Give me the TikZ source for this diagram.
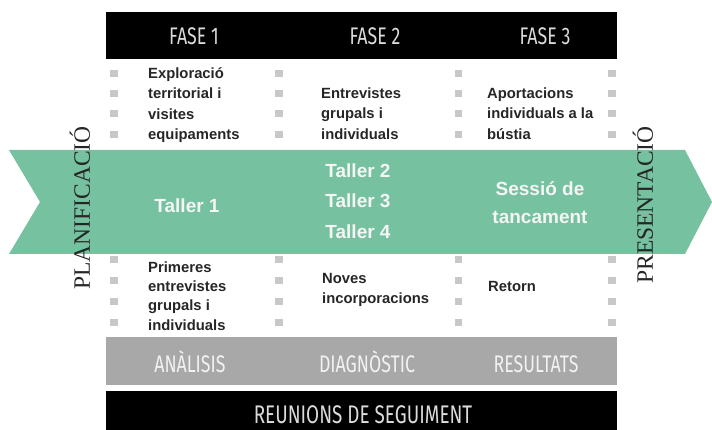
\documentclass[tikz,border=0pt]{standalone}
\usepackage{fontspec}
\setmainfont{Liberation Sans}
\newfontfamily\headfont{Fira Sans}[FakeStretch=0.74]
\newfontfamily\sidefont{Liberation Serif}
\definecolor{band}{RGB}{117,193,160}
\definecolor{dotgray}{RGB}{200,200,200}
\definecolor{stagegray}{RGB}{168,168,168}
\definecolor{ink}{RGB}{38,38,38}

\begin{document}
\begin{tikzpicture}[x=1pt,y=-1pt,every node/.style={inner sep=0pt},
  bar/.style={anchor=north west,minimum width=511pt},
  headtxt/.style={font=\headfont\fontsize{24}{24}\selectfont,text=white!86!black,anchor=base},
  coltxt/.style={font=\bfseries\fontsize{14.8}{20.3}\selectfont,text=ink,align=left,anchor=base west},
  bandtxt/.style={font=\bfseries\fontsize{19}{30.7}\selectfont,text=white!96!black,align=center},
  sidetxt/.style={font=\sidefont\fontsize{23.5}{23.5}\selectfont,rotate=90,text=ink}]
  \useasboundingbox (0,0) rectangle (712,430);
  \node[bar,fill=black,minimum height=47pt] (fases) at (106,12) {};
  \node[bar,fill=stagegray,minimum height=48pt] (etapes) at (106,337) {};
  \node[bar,fill=black,minimum height=40pt] (reunions) at (106,391) {};
  \fill[band] (9,150) -- (685,150) -- (712,202) -- (685,254) -- (9,254) -- (40,202) -- cycle;
  \foreach \x in {114,279,458.5,612}
    \foreach \y in {73.5,93.5,113.5,134.5,260,281,301.5,322}
      \fill[dotgray] (\x-3.75,\y-3.5) rectangle (\x+3.75,\y+3.5);
  \node[headtxt] (f1) at (194,45) {FASE 1};
  \node[headtxt] (f2) at (375,45) {FASE 2};
  \node[headtxt] (f3) at (545,45) {FASE 3};
  \node[coltxt] (t1) at (148,139.4) {Exploració\\territorial i\\visites\\equipaments};
  \node[coltxt] (t2) at (321,139.1) {Entrevistes\\grupals i\\individuals};
  \node[coltxt] (t3) at (487,139.1) {Aportacions\\individuals a la\\bústia};
  \node[bandtxt] (w1) at (187,205.5) {Taller 1};
  \node[bandtxt] (w2) at (358,201) {Taller 2\\Taller 3\\Taller 4};
  \node[bandtxt,font=\bfseries\fontsize{19}{28}\selectfont] (w3) at (540,202.5) {Sessió de\\tancament};
  \node[coltxt,font=\bfseries\fontsize{14.8}{19.5}\selectfont] (b1) at (148,330.5) {Primeres\\entrevistes\\grupals i\\individuals};
  \node[coltxt] (b2) at (322,303.5) {Noves\\incorporacions};
  \node[coltxt] (b3) at (488,292) {Retorn};
  \node[sidetxt] (plan) at (80,208) {PLANIFICACIÓ};
  \node[sidetxt] (pres) at (643,205) {PRESENTACIÓ};
  \node[headtxt,text=white!95!black] (e1) at (190,372) {ANÀLISIS};
  \node[headtxt,text=white!95!black] (e2) at (367,372) {DIAGNÒSTIC};
  \node[headtxt,text=white!95!black] (e3) at (536,372) {RESULTATS};
  \node[headtxt,font=\headfont\fontsize{25.5}{25.5}\selectfont] (seg) at (363,423) {REUNIONS DE SEGUIMENT};
\end{tikzpicture}
\end{document}
